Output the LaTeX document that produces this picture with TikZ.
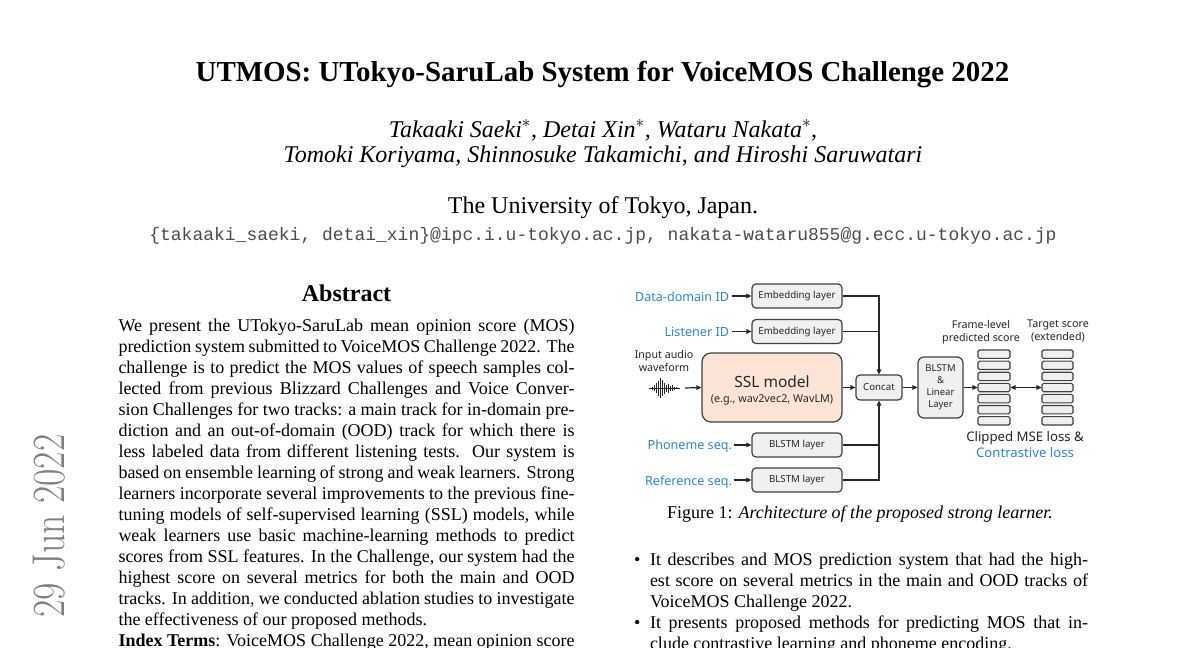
\documentclass[tikz,border=0pt]{standalone}
\usepackage{fontspec}
\setmainfont{Liberation Serif}
\setmonofont{Liberation Mono}
\newfontfamily\figfont{Noto Sans}
\usetikzlibrary{arrows.meta,calc}
\definecolor{figblue}{RGB}{46,134,206}
\definecolor{boxfill}{RGB}{240,240,240}
\definecolor{sslfill}{RGB}{251,228,213}
\definecolor{edgegray}{RGB}{64,64,64}
\definecolor{stampgray}{RGB}{128,128,128}
\definecolor{figtext}{RGB}{38,38,38}
\newcount\lnc
\newcommand\jline[4]{\global\advance\lnc by 1
  \node[txt] (ln\the\lnc) at (#1,#2) {\makebox[#3pt][s]{#4}};}
\newcommand\lline[3]{\global\advance\lnc by 1
  \node[txt] (ln\the\lnc) at (#1,#2) {#3};}
\tikzset{
  txt/.style={anchor=base west, inner sep=0pt, outer sep=0pt, font=\fontsize{18}{21}\selectfont},
  ctr/.style={anchor=base, inner sep=0pt, outer sep=0pt},
  lab/.style={anchor=base east, inner sep=0pt, outer sep=0pt, font=\figfont\fontsize{12.6}{14}\selectfont, text=figblue},
  smallbox/.style={draw=edgegray, line width=1.2pt, fill=boxfill, rounded corners=4pt,
    minimum width=90pt, minimum height=24pt, inner sep=0pt,
    font=\figfont\fontsize{9.7}{12}\selectfont, text=figtext},
  conn/.style={line width=1.2pt, draw=figtext},
  arr/.style={conn, -{Triangle[length=5pt,width=4.5pt]}},
  score/.style={draw=edgegray, line width=1.1pt, fill=boxfill, rounded corners=1.5pt,
    minimum width=32pt, minimum height=8.4pt, inner sep=0pt},
  figlab/.style={font=\figfont\fontsize{10.7}{13.5}\selectfont, text=figtext, align=center, inner sep=0pt},
}
\begin{document}
\begin{tikzpicture}[x=1pt,y=-1pt]
\useasboundingbox (0,0) rectangle (1200,648);
\fill[white] (0,0) rectangle (1200,648);
\clip (0,0) rectangle (1200,648);

% arXiv stamp
\node[rotate=90, text=stampgray, inner sep=0pt] (stamp) at (49,526)
  {\scalebox{0.82}[1]{\fontfamily{lmr}\fontsize{46}{46}\selectfont 29 Jun 2022}};

% header
\node[ctr, font=\bfseries\fontsize{28.9}{32}\selectfont] (title) at (602.5,81.7)
  {UTMOS: UTokyo-SaruLab System for VoiceMOS Challenge 2022};
\node[ctr, font=\itshape\fontsize{24}{27}\selectfont] (auth1) at (603,137)
  {Takaaki Saeki$^*$, Detai Xin$^*$, Wataru Nakata$^*$,};
\node[ctr, font=\itshape\fontsize{24}{27}\selectfont] (auth2) at (603,162.5)
  {Tomoki Koriyama, Shinnosuke Takamichi, and Hiroshi Saruwatari};
\node[ctr, font=\fontsize{24}{27}\selectfont] (affil) at (603,213)
  {The University of Tokyo, Japan.};
\node[ctr, font=\ttfamily\fontsize{18}{21}\selectfont, text=black!70] (email) at (603,240)
  {\{takaaki\_saeki, detai\_xin\}@ipc.i.u-tokyo.ac.jp, nakata-wataru855@g.ecc.u-tokyo.ac.jp};

% abstract
\node[ctr, font=\bfseries\fontsize{24}{28}\selectfont] (abshead) at (346.5,301) {Abstract};
\jline{118.5}{331}{456}{We present the UTokyo-SaruLab mean opinion score (MOS)}
\jline{118.5}{352}{456}{prediction system submitted to VoiceMOS Challenge 2022. The}
\jline{118.5}{373}{456}{challenge is to predict the MOS values of speech samples col-}
\jline{118.5}{394}{456}{lected from previous Blizzard Challenges and Voice Conver-}
\jline{118.5}{415}{456}{sion Challenges for two tracks: a main track for in-domain pre-}
\jline{118.5}{436}{456}{diction and an out-of-domain (OOD) track for which there is}
\jline{118.5}{457}{456}{less labeled data from different listening tests.\ \ Our system is}
\jline{118.5}{478}{456}{based on ensemble learning of strong and weak learners. Strong}
\jline{118.5}{499}{456}{learners incorporate several improvements to the previous fine-}
\jline{118.5}{520}{456}{tuning models of self-supervised learning (SSL) models, while}
\jline{118.5}{541}{456}{weak learners use basic machine-learning methods to predict}
\jline{118.5}{562}{456}{scores from SSL features. In the Challenge, our system had the}
\jline{118.5}{583}{456}{highest score on several metrics for both the main and OOD}
\jline{118.5}{604}{456}{tracks. In addition, we conducted ablation studies to investigate}
\lline{118.5}{625}{the effectiveness of our proposed methods.}
\jline{118.5}{646}{456}{\textbf{Index Terms}: VoiceMOS Challenge 2022, mean opinion score}

% right column text
\node[ctr, font=\fontsize{18}{21}\selectfont] (caption) at (860,518)
  {Figure 1: \textit{Architecture of the proposed strong learner.}};
\node[txt] (b1) at (634,565) {\textbullet};
\node[txt] (b2) at (634,628) {\textbullet};
\jline{650}{565}{438}{It describes and MOS prediction system that had the high-}
\jline{650}{586}{438}{est score on several metrics in the main and OOD tracks of}
\lline{650}{607}{VoiceMOS Challenge 2022.}
\jline{650}{628}{438}{It presents proposed methods for predicting MOS that in-}
\lline{650}{649}{clude contrastive learning and phoneme encoding.}

% ---------- figure ----------
\node[smallbox] (emb1) at (797,296) {Embedding layer};
\node[smallbox] (emb2) at (797,331.5) {Embedding layer};
\node[smallbox] (bl1) at (797,445) {BLSTM layer};
\node[smallbox] (bl2) at (797,480) {BLSTM layer};
\node[draw=edgegray, line width=1.2pt, fill=sslfill, rounded corners=9pt,
  minimum width=140pt, minimum height=69pt, inner sep=0pt] (ssl) at (772,387.5) {};
\node[ctr, font=\figfont\fontsize{15.5}{18}\selectfont, text=figtext] (sslt) at (772,387.5) {SSL model};
\node[ctr, font=\figfont\fontsize{10.8}{13}\selectfont, text=figtext] (ssls) at (772,402) {(e.g., wav2vec2, WavLM)};
\node[smallbox, minimum width=46pt, minimum height=25pt] (concat) at (879,387.5) {Concat};
\node[smallbox, minimum width=45pt, minimum height=61pt, rounded corners=6pt, align=center,
  font=\figfont\fontsize{9.5}{12}\selectfont] (lin) at (940.5,387.5) {BLSTM\\\&\\Linear\\Layer};

\node[lab] (ldd) at (729,301) {Data-domain ID};
\node[lab] (lli) at (729,336) {Listener ID};
\node[lab] (lph) at (732,449.5) {Phoneme seq.};
\node[lab] (lre) at (732,485) {Reference seq.};
\node[figlab] (inp) at (664,361) {Input audio\\waveform};

\draw[arr] ([xshift=3pt]ldd.east |- emb1.west) -- (emb1.west);
\draw[arr] ([xshift=3pt]lli.east |- emb2.west) -- (emb2.west);
\draw[arr] ([xshift=2pt]lph.east |- bl1.west) -- (bl1.west);
\draw[arr] ([xshift=2pt]lre.east |- bl2.west) -- (bl2.west);

% waveform icon
\coordinate (wv) at (664.5,388);
\coordinate (wvend) at (685,388);
\draw[figtext, line width=0.8pt] ($(wv)+(-15.5,0)$) -- ($(wv)+(15.5,0)$);
\foreach \dx/\h in {-12/1.5,-10/3,-8/5,-6/7.5,-4/10,-2/8,0/5.5,2/3.5,4/4.5,6/2.5,8/3,10/1.5,12/1} {
  \draw[figtext, line width=1.3pt] ($(wv)+(\dx,-\h)$) -- ($(wv)+(\dx,\h)$);
}
\draw[arr] (wvend) -- (ssl.west);

% bus
\draw[arr] (emb1.east) -| (concat.north);
\draw[conn] (emb2.east) -- (emb2.east -| concat.north);
\draw[arr] (bl2.east) -| (concat.south);
\draw[conn] (bl1.east) -- (bl1.east -| concat.south);
\draw[arr] (ssl.east) -- (concat.west);
\draw[arr] (concat.east) -- (lin.west);

% score stacks
\foreach \i in {1,...,7} {
  \node[score] (p\i) at (994,{354.2+(\i-1)*11.1}) {};
  \node[score, minimum width=31pt] (t\i) at (1057.5,{354.2+(\i-1)*11.1}) {};
}
\draw[arr] (lin.east) -- (p4.west);
\draw[conn, {Triangle[length=5pt,width=4.5pt]}-{Triangle[length=5pt,width=4.5pt]}] (p4.east) -- (t4.west);

\node[figlab] (plab) at (981,332) {Frame-level\\predicted score};
\node[figlab] (tlab) at (1058,331) {Target score\\(extended)};
\node[figlab, font=\figfont\fontsize{13.2}{16}\selectfont] (loss) at (1025,445)
  {Clipped MSE loss \&\\\textcolor{figblue}{Contrastive loss}};
\end{tikzpicture}
\end{document}
